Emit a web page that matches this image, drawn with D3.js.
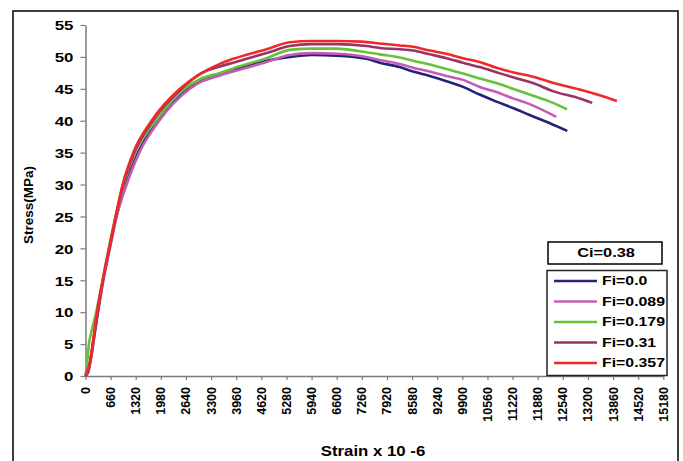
<!DOCTYPE html>
<html><head><meta charset="utf-8">
<script src="https://cdn.jsdelivr.net/npm/d3@7"></script>
<style>body{margin:0;background:#fff}svg{display:block}text{font-family:"Liberation Sans",Arial,sans-serif;font-weight:bold;fill:#000}</style>
</head><body>
<svg id="c" width="683" height="461"></svg>
<script>
const seriesNames = ["Fi=0.0","Fi=0.089","Fi=0.179","Fi=0.31","Fi=0.357"];
const seriesColors = ["#23237a","#c45cb4","#66c23a","#993366","#f02828"];
const fi0 = [[0,0],[60,0.5],[140,3],[240,7],[460,15],[630,20],[810,25],[1050,30],[1380,35],[1900,40],[2700,45],[3005,46.3],[3531,47.4],[3880,48.0],[4757,49.4],[5368,50.0],[5940,50.3],[6600,50.2],[7382,49.7],[7731,49.1],[8256,48.4],[8606,47.7],[9043,47.0],[9481,46.2],[9918,45.3],[10356,44.1],[10794,43.0],[11230,42.0],[11668,40.9],[12200,39.6],[12658,38.4]];
const fi089 = [[0,0],[70,0.5],[150,3],[250,7],[470,15],[640,20],[820,25],[1081,30],[1413,35],[1937,40],[2743,45],[3005,46.0],[3531,47.1],[3880,47.7],[4757,49.2],[5368,50.3],[5940,50.6],[6600,50.5],[7382,50.0],[7731,49.5],[8256,48.9],[8606,48.3],[9043,47.7],[9481,47.0],[9918,46.4],[10356,45.3],[10794,44.5],[11230,43.5],[11668,42.6],[12369,40.6]];
const fi179 = [[0,0],[40,2],[90,5],[150,6.8],[280,10],[450,15],[610,20],[790,25],[1000,30],[1300,35],[1851,40],[2600,45],[3005,46.5],[3531,47.5],[3880,48.2],[4757,49.8],[5368,51.1],[5940,51.3],[6600,51.3],[7200,50.9],[7731,50.4],[8256,49.9],[8606,49.4],[9043,48.8],[9481,48.1],[9918,47.4],[10356,46.6],[10794,45.9],[11230,45.0],[11668,44.1],[12200,43.0],[12650,41.8]];
const fi31 = [[0,0],[80,1],[150,3],[250,7],[460,15],[630,20],[800,25],[990,30],[1280,35],[1770,40],[2520,45],[3005,47.3],[3531,48.5],[3880,49.1],[4757,50.6],[5368,51.7],[5940,52.0],[6600,52.0],[7382,51.7],[7731,51.4],[8256,51.2],[8606,51.0],[9043,50.4],[9481,49.8],[9918,49.1],[10356,48.4],[10794,47.6],[11230,46.8],[11755,45.9],[12300,44.6],[12981,43.5],[13313,42.8]];
const fi357 = [[0,0],[60,1],[120,2.2],[200,5.5],[260,8.3],[450,15],[620,20],[790,25],[976,30],[1255,35],[1737,40],[2481,45],[3005,47.3],[3531,48.9],[3880,49.7],[4757,51.2],[5368,52.3],[5940,52.5],[6600,52.5],[7260,52.4],[7731,52.1],[8256,51.8],[8606,51.6],[9043,51.0],[9481,50.5],[9918,49.8],[10356,49.2],[10794,48.3],[11230,47.6],[11755,46.9],[12300,45.9],[12981,44.9],[13506,44.0],[13960,43.1]];
const seriesData = [fi0, fi089, fi179, fi31, fi357];
const xTicks = [0,660,1320,1980,2640,3300,3960,4620,5280,5940,6600,7260,7920,8580,9240,9900,10560,11220,11880,12540,13200,13860,14520,15180];
const yTicks = [0,5,10,15,20,25,30,35,40,45,50,55];
const xTitle = "Strain x 10 -6";
const yTitle = "Stress(MPa)";
const boxTitle = "Ci=0.38";

const svg = d3.select("#c");
svg.append("rect").attr("x",13).attr("y",11).attr("width",665).attr("height",470)
  .attr("fill","none").attr("stroke","#000").attr("stroke-width",1.5);

const x = d3.scaleLinear().domain([0,15180]).range([85.5,663.3]);
const y = d3.scaleLinear().domain([0,55]).range([376,25]);

// y axis
const ya = svg.append("g").attr("transform","translate(85.5,0)")
  .call(d3.axisLeft(y).tickValues(yTicks).tickSize(5).tickSizeOuter(0).tickFormat(d3.format("d")));
ya.select(".domain").attr("stroke","#7a7a7a").attr("stroke-width",1.5);
ya.selectAll(".tick line").attr("stroke","#7a7a7a").attr("stroke-width",1.2);
ya.selectAll(".tick text").attr("x",0).attr("dy",null).attr("dominant-baseline","central")
  .attr("text-anchor","end").attr("font-size",13).style("font-family",null)
  .attr("transform","translate(-12,0) scale(1.3,1)");

// x axis
const xa = svg.append("g").attr("transform","translate(0,376)")
  .call(d3.axisBottom(x).tickValues(xTicks).tickSize(4).tickSizeOuter(0).tickFormat(d3.format("d")));
xa.select(".domain").attr("stroke","#7a7a7a").attr("stroke-width",1.5);
xa.selectAll(".tick line").attr("stroke","#7a7a7a").attr("stroke-width",1.2);
xa.selectAll(".tick text").attr("y",0).attr("dy",null).attr("text-anchor","end")
  .attr("dominant-baseline","central").attr("font-size",12.5)
  .attr("transform","translate(0,11) rotate(-90)");

// titles
svg.append("text").attr("text-anchor","middle").attr("font-size",14)
  .attr("transform","translate(373,456) scale(1.2,1)").text(xTitle);
svg.append("text").attr("text-anchor","middle").attr("font-size",13.5)
  .attr("transform","translate(33,205) rotate(-90)").text(yTitle);

// lines
const line = d3.line().curve(d3.curveMonotoneX).x(d=>x(d[0])).y(d=>y(d[1]));
seriesData.forEach((s,i)=>{
  svg.append("path").datum(s).attr("d",line).attr("fill","none")
    .attr("stroke",seriesColors[i]).attr("stroke-width",2.6).attr("stroke-linejoin","round");
});

// Ci box
svg.append("rect").attr("x",548).attr("y",242).attr("width",114).attr("height",22)
  .attr("fill","#fff").attr("stroke","#000").attr("stroke-width",1.5);
svg.append("text").attr("text-anchor","middle").attr("dominant-baseline","central").attr("font-size",13)
  .attr("transform","translate(606,253) scale(1.26,1)").text(boxTitle);

// legend
svg.append("rect").attr("x",547).attr("y",270.5).attr("width",120).attr("height",105)
  .attr("fill","#fff").attr("stroke","#222").attr("stroke-width",1.5);
const ly = d3.scalePoint().domain(seriesNames).range([281,363]);
seriesNames.forEach((n,i)=>{
  svg.append("line").attr("x1",554).attr("x2",597).attr("y1",ly(n)).attr("y2",ly(n))
    .attr("stroke",seriesColors[i]).attr("stroke-width",2.6);
  svg.append("text").attr("dominant-baseline","central").attr("font-size",12)
    .attr("transform",`translate(602,${ly(n)}) scale(1.32,1)`).text(n);
});
</script>
</body></html>
